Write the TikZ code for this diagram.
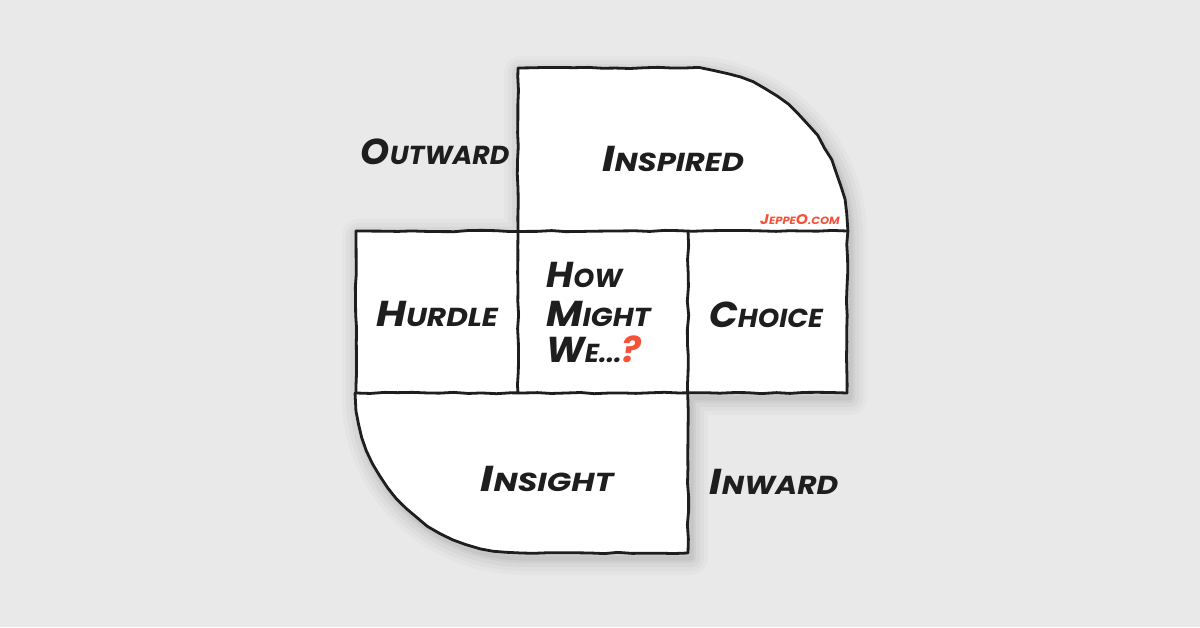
\documentclass[tikz,border=0pt]{standalone}
\usepackage{fontspec}
\setmainfont{Poppins}
\usetikzlibrary{decorations.pathmorphing}
\definecolor{bg}{HTML}{E9E9E9}
\definecolor{ink}{HTML}{1E1E1E}
\definecolor{accent}{HTML}{F4533A}
\newcommand{\bigL}[1]{{\fontsize{36}{36}\selectfont #1}}
\newcommand{\smallL}[1]{{\fontsize{26}{26}\selectfont #1}}
\newcommand{\tinyB}[1]{{\fontsize{14}{14}\selectfont #1}}
\newcommand{\tinyS}[1]{{\fontsize{10.5}{10.5}\selectfont #1}}
\newcommand{\wide}[2]{\scalebox{#1}[1]{#2}}
\tikzset{
  sketch/.style={draw=ink, line width=2.8pt, line join=round, line cap=round,
    decorate, decoration={random steps, segment length=14pt, amplitude=0.7pt}},
  cellfill/.style={fill=white},
  lbl/.style={anchor=base, inner sep=0pt, text=ink, font=\bfseries\itshape},
}
\begin{document}
\begin{tikzpicture}[x=1pt,y=1pt]
\pgfmathsetseed{7}
\fill[bg] (0,0) rectangle (1200,627);
\useasboundingbox (0,0) rectangle (1200,627);
% soft shadow
\foreach \w/\o in {34/0.02,26/0.025,18/0.03,10/0.035,5/0.04}{
  \draw[black, opacity=\o, line width=\w pt, line join=round, shift={(3,-5)}]
    (518,559) -- (685,559) arc[start angle=90,end angle=0,x radius=162,y radius=163]
    -- (847,234) -- (688,234) -- (688,74) -- (521,74)
    arc[start angle=270,end angle=180,x radius=165,y radius=160]
    -- (356,396) -- (518,396) -- cycle;
}
% Inspired cell
\path[cellfill] (518,396) -- (518,559) -- (685,559)
  arc[start angle=90,end angle=0,x radius=162,y radius=163] -- cycle;
% middle row
\path[cellfill] (356,234) rectangle (847,396);
% Insight cell
\path[cellfill] (688,234) -- (688,74) -- (521,74)
  arc[start angle=270,end angle=180,x radius=165,y radius=160] -- cycle;
% outlines
\draw[sketch] (518,396) -- (518,559) -- (685,559)
  arc[start angle=90,end angle=0,x radius=162,y radius=163] -- (847,234);
\draw[sketch] (356,396) -- (847,396);
\draw[sketch] (356,396) -- (356,234);
\draw[sketch] (356,234) -- (847,234);
\draw[sketch] (518,396) -- (518,234);
\draw[sketch] (688,396) -- (688,74) -- (521,74)
  arc[start angle=270,end angle=180,x radius=165,y radius=160];
% labels
\node[lbl] (outward) at (435,462) {\wide{1.03}{\bigL{O}\smallL{UTWARD}}};
\node[lbl] (inspired) at (673,455) {\wide{1.18}{\bigL{I}\smallL{NSPIRED}}};
\node[lbl, anchor=base east, text=accent] (brand) at (840,402) {\wide{1.1}{\tinyB{J}\tinyS{EPPE}\tinyB{O}\tinyS{.COM}}};
\node[lbl] (hurdle) at (437,300) {\wide{1.14}{\bigL{H}\smallL{URDLE}}};
\node[lbl, anchor=base west] (how) at (546,339) {\wide{1.03}{\bigL{H}\smallL{OW}}};
\node[lbl, anchor=base west] (might) at (546,300) {\wide{1.1}{\bigL{M}\smallL{IGHT}}};
\node[lbl, anchor=base west] (we) at (546,264) {\wide{1.02}{\bigL{W}\smallL{E...}\textcolor{accent}{\bigL{?}}}};
\node[lbl] (choice) at (766,299) {\wide{1.05}{\bigL{C}\smallL{HOICE}}};
\node[lbl] (insight) at (547,135) {\wide{1.23}{\bigL{I}\smallL{NSIGHT}}};
\node[lbl] (inward) at (774,132) {\wide{1.14}{\bigL{I}\smallL{NWARD}}};
\end{tikzpicture}
\end{document}
